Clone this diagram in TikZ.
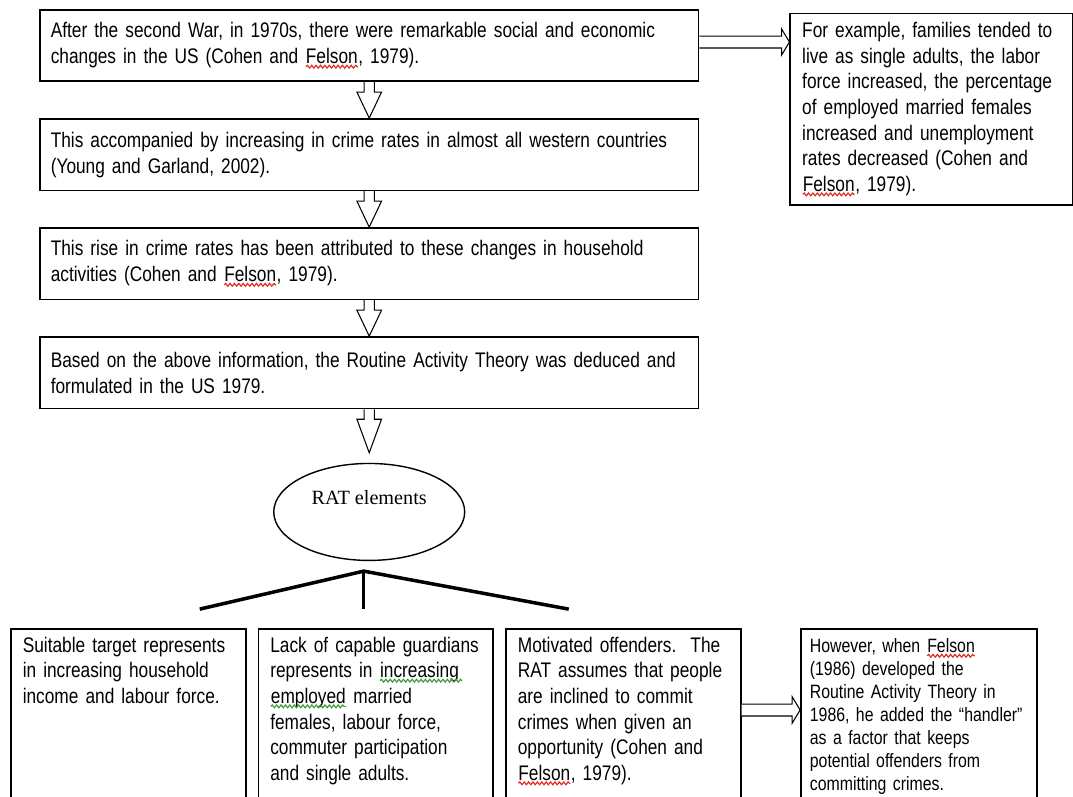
\documentclass[tikz,border=0pt]{standalone}
\usepackage{fontspec}
\setmainfont{Liberation Sans}[FakeStretch=0.82]
\newfontfamily\ratfont{Liberation Serif}
\usetikzlibrary{positioning,calc,shapes.geometric,decorations.pathmorphing}
\definecolor{SpellRed}{HTML}{E0281E}
\definecolor{GrammarGreen}{HTML}{3C9A32}
\hyphenpenalty=10000
\newcommand\squig[2]{\tikz[baseline=(sq.base)]{\node[draw=none, inner sep=0pt, outer sep=0pt, minimum width=0pt, minimum height=0pt, text width={}, text depth={}, text height={}] (sq) {#2};
  \draw[#1, line width=0.65pt, decorate, decoration={snake, amplitude=0.8pt, segment length=2.5pt}] ([yshift=-1.7pt]sq.base west) -- ([yshift=-1.7pt]sq.base east);}}
\tikzset{
  flowbox/.style={draw=black, line width=0.9pt, align=left, text width=12.74cm, inner xsep=0.22cm, minimum height=1.43cm, font=\fontsize{12}{14.8}\selectfont},
  sidebox/.style={draw=black, line width=0.9pt, align=left, text width=5.18cm, inner xsep=0.24cm, minimum height=3.84cm, font=\fontsize{12}{14.6}\selectfont},
  elembox/.style={draw=black, line width=0.9pt, align=left, text width=4.22cm, inner xsep=0.24cm, inner ysep=0.16cm, text depth=3.6cm, font=\fontsize{12}{14.6}\selectfont},
  hollowdown/.style={draw=black, fill=white, line width=0.6pt, to path={let \p1=(\tikztostart), \p2=(\tikztotarget) in
    (\x1-2.9pt,\y1) -- (\x1-2.9pt,\y1-5.7pt) -- (\x1-7pt,\y1-5.7pt) -- (\x1,\y2) -- (\x1+7pt,\y1-5.7pt) -- (\x1+2.9pt,\y1-5.7pt) -- (\x1+2.9pt,\y1)}},
  hollowright/.style={draw=black, fill=white, line width=0.6pt, to path={let \p1=(\tikztostart), \p2=(\tikztotarget) in
    (\x1,\y1+3.4pt) -- (\x2-4.5pt,\y1+3.4pt) -- (\x2-4.5pt,\y1+7.5pt) -- (\x2,\y1) -- (\x2-4.5pt,\y1-7.5pt) -- (\x2-4.5pt,\y1-3.4pt) -- (\x1,\y1-3.4pt)}},
  branch/.style={draw=black, line width=2pt}
}
\begin{document}
\begin{tikzpicture}[x=0.02cm, y=-0.02cm, node distance=0.72cm]
  \useasboundingbox (0,0) rectangle (1073,796);
  \clip (0,0) rectangle (1073,796);
  % top chain
  \node[flowbox, anchor=north west] (war) at (39,9) {After the second War, in 1970s, there were remarkable social and economic\\changes in the US (Cohen and \squig{SpellRed}{Felson}, 1979).};
  \node[flowbox, below=of war] (crimerise) {This accompanied by increasing in crime rates in almost all western countries\\(Young and Garland, 2002).};
  \node[flowbox, below=of crimerise] (attributed) {This rise in crime rates has been attributed to these changes in household\\activities (Cohen and \squig{SpellRed}{Felson}, 1979).};
  \node[flowbox, below=of attributed] (deduced) {Based on the above information, the Routine Activity Theory was deduced and\\formulated in the US 1979.};
  \node[sidebox, right=1.8cm of war.north east, anchor=north west, yshift=-2pt] (example) {For example, families tended to\\live as single adults, the labor\\force increased, the percentage\\of employed married females\\increased and unemployment\\rates decreased (Cohen and\\\squig{SpellRed}{Felson}, 1979).};
  \draw[hollowdown] (war.south) to (crimerise.north);
  \draw[hollowdown] (crimerise.south) to (attributed.north);
  \draw[hollowdown] (attributed.south) to (deduced.north);
  \draw[hollowright] ([yshift=2pt]war.east) to ([yshift=2pt]war.east -| example.west);
  % RAT elements
  \node[ellipse, draw=black, line width=0.8pt, minimum width=3.82cm, minimum height=1.94cm, below=1.07cm of deduced, text depth=16.5pt, font=\ratfont\fontsize{11.5}{14}\selectfont] (rat) {RAT elements};
  \draw[hollowdown] (deduced.south) to ($(deduced.south |- rat.north)+(0,-10)$);
  \coordinate[below=0.2cm of rat.south, xshift=-0.11cm] (fork);
  \coordinate (forkleft) at ($(fork)+(-164,38)$);
  \coordinate (forkmid) at ($(fork)+(0,38)$);
  \coordinate (forkright) at ($(fork)+(205,38)$);
  \draw[branch] (forkleft) -- (fork) -- (forkright);
  \draw[branch] (fork) -- (forkmid);
  % elements
  \node[elembox, anchor=north west] (target) at (10,628) {Suitable target represents\\in increasing household\\income and labour force.};
  \node[elembox, right=0.22cm of target.north east, anchor=north west] (guardians) {Lack of capable guardians\\represents in \squig{GrammarGreen}{increasing\,}\\\squig{GrammarGreen}{employed} married\\females, labour force,\\commuter participation\\and single adults.};
  \node[elembox, right=0.22cm of guardians.north east, anchor=north west] (offenders) {Motivated offenders.\ \ The\\RAT assumes that people\\are inclined to commit\\crimes when given an\\opportunity (Cohen and\\\squig{SpellRed}{Felson}, 1979).};
  \node[elembox, right=1.17cm of offenders.north east, anchor=north west, text width=4.36cm, inner xsep=0.18cm, inner ysep=0.2cm, font=\fontsize{11}{13.1}\selectfont] (handler) {However, when \squig{SpellRed}{Felson}\\(1986) developed the\\Routine Activity Theory in\\1986, he added the “handler”\\as a factor that keeps\\potential offenders from\\committing crimes.};
  \coordinate (handlertail) at ($(offenders.north east)+(0,82)$);
  \draw[hollowright] (handlertail) to (handlertail -| handler.west);
\end{tikzpicture}
\end{document}
